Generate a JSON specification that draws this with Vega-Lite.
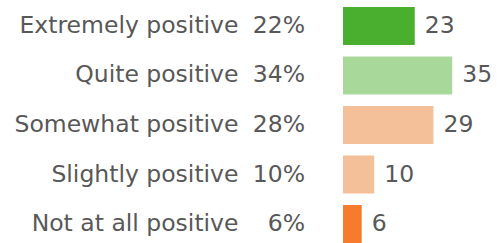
{
  "$schema": "https://vega.github.io/schema/vega-lite/v6.json",
  "autosize": {"type": "none"},
  "padding": {"left": 343, "top": 0, "right": 0, "bottom": 0},
  "width": 156,
  "height": 250,
  "background": "white",
  "config": {"view": {"stroke": null}, "font": "DejaVu Sans"},
  "data": {
    "values": [
      {"category": "Extremely positive", "pct": "22%", "value": 23, "color": "#4aae2e"},
      {"category": "Quite positive", "pct": "34%", "value": 35, "color": "#a9d89b"},
      {"category": "Somewhat positive", "pct": "28%", "value": 29, "color": "#f4c09a"},
      {"category": "Slightly positive", "pct": "10%", "value": 10, "color": "#f4c09a"},
      {"category": "Not at all positive", "pct": "6%", "value": 6, "color": "#f77b2c"}
    ]
  },
  "encoding": {
    "y": {
      "field": "category",
      "type": "nominal",
      "sort": null,
      "scale": {"paddingInner": 0.232, "paddingOuter": 0.141},
      "axis": {
        "title": null,
        "domain": false,
        "ticks": false,
        "labelPadding": 105,
        "labelLimit": 400,
        "labelFontSize": 23.5,
        "labelColor": "#585858",
        "labelFont": "DejaVu Sans",
        "labelAlign": "right"
      }
    }
  },
  "layer": [
    {
      "mark": {"type": "bar"},
      "encoding": {
        "x": {"field": "value", "type": "quantitative", "scale": {"domain": [0, 49.8]}, "axis": null},
        "color": {"field": "color", "type": "nominal", "scale": null}
      }
    },
    {
      "mark": {"type": "text", "align": "right", "baseline": "middle", "dx": -38, "fontSize": 23.5, "color": "#585858"},
      "encoding": {
        "x": {"datum": 0, "type": "quantitative"},
        "text": {"field": "pct"}
      }
    },
    {
      "mark": {"type": "text", "align": "left", "baseline": "middle", "dx": 10, "fontSize": 23.5, "color": "#585858"},
      "encoding": {
        "x": {"field": "value", "type": "quantitative"},
        "text": {"field": "value"}
      }
    }
  ]
}
